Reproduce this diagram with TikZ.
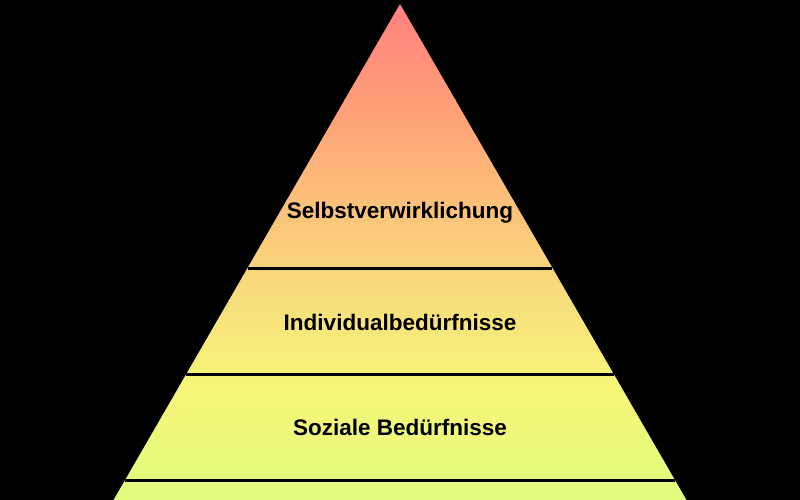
\documentclass[tikz,border=0pt]{standalone}
\usepackage{fontspec}
\setmainfont{Liberation Sans}
\begin{document}
\begin{tikzpicture}[x=1pt,y=-1pt,
  levelline/.style={draw=black,line width=3pt},
  label/.style={font=\fontsize{22.5}{27}\selectfont\bfseries,text=black,inner sep=0pt}]
\definecolor{c0}{RGB}{255,128,128}
\definecolor{c1}{RGB}{255,157,120}
\definecolor{c2}{RGB}{252,192,122}
\definecolor{c3}{RGB}{248,222,125}
\definecolor{c4}{RGB}{247,246,120}
\definecolor{c5}{RGB}{221,252,126}
\fill[black] (0,0) rectangle (800,500);
\useasboundingbox (0,0) rectangle (800,500);
\coordinate (apex) at (400,4);
\coordinate (bl) at (102,520);
\coordinate (br) at (698,520);
\begin{scope}
  \clip (0,0) rectangle (800,500);
  \clip (apex) -- (br) -- (bl) -- cycle;
  \shade[top color=c0,bottom color=c1] (90,0) rectangle (710,100.5);
  \shade[top color=c1,bottom color=c2] (90,100) rectangle (710,200.5);
  \shade[top color=c2,bottom color=c3] (90,200) rectangle (710,300.5);
  \shade[top color=c3,bottom color=c4] (90,300) rectangle (710,385.5);
  \shade[top color=c4,bottom color=c5] (90,385) rectangle (710,520);
\end{scope}
\coordinate (l1a) at (247.6,268); \coordinate (l1b) at (552.4,268);
\coordinate (l2a) at (186.4,374); \coordinate (l2b) at (613.6,374);
\coordinate (l3a) at (125.2,480); \coordinate (l3b) at (674.8,480);
\draw[levelline] (l1a) -- (l1b);
\draw[levelline] (l2a) -- (l2b);
\draw[levelline] (l3a) -- (l3b);
\node[label] (t1) at (400,213) {Selbstverwirklichung};
\node[label] (t2) at (400,322) {Individualbedürfnisse};
\node[label] (t3) at (400,427) {Soziale Bedürfnisse};
\end{tikzpicture}
\end{document}
